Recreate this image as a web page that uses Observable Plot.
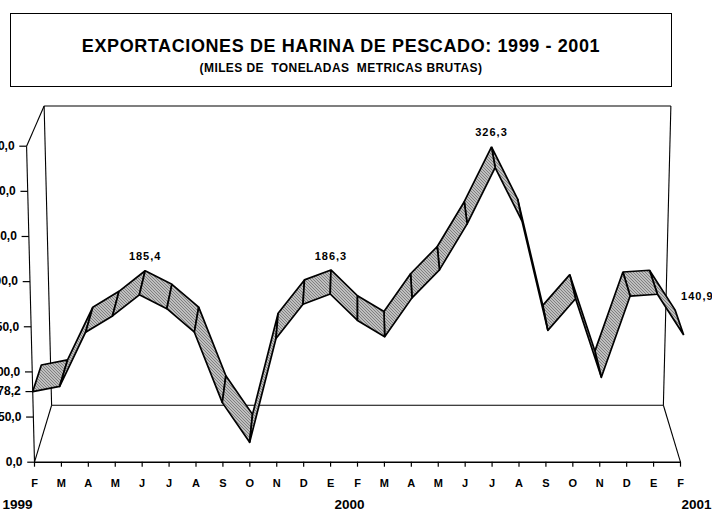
<!DOCTYPE html>
<html>
<head>
<meta charset="utf-8">
<script src="https://cdn.jsdelivr.net/npm/d3@7"></script>
<script src="https://cdn.jsdelivr.net/npm/@observablehq/plot@0.6"></script>
<style>
  html, body { margin: 0; padding: 0; background: #fff; }
  #page { position: relative; width: 712px; height: 512px; overflow: hidden; font-family: "Liberation Sans", Arial, sans-serif; font-weight: bold; color: #000; }
  #titlebox { position: absolute; left: 10px; top: 13px; width: 662px; height: 74px; box-sizing: border-box; border: 1px solid #000; }
  #title { position: absolute; left: 0; right: 0; top: 23px; text-align: center; font-size: 18px; line-height: 18px; letter-spacing: 0.6px; white-space: pre; }
  #subtitle { position: absolute; left: 0; right: 0; top: 48px; text-align: center; font-size: 12px; line-height: 12px; letter-spacing: 0.4px; white-space: pre; }
  #chart { position: absolute; left: 0; top: 95px; }
</style>
</head>
<body>
<div id="page">
  <div id="titlebox">
    <div id="title">EXPORTACIONES DE HARINA DE PESCADO: 1999 - 2001</div>
    <div id="subtitle">(MILES DE  TONELADAS  METRICAS BRUTAS)</div>
  </div>
  <div id="chart"></div>
</div>
<script>
// ---- data ----
const months = ["F","M","A","M","J","J","A","S","O","N","D","E","F","M","A","M","J","J","A","S","O","N","D","E","F"];
const values = [78.2, 84, 144, 162, 185.4, 170, 144, 66, 22, 137, 175, 186.3, 157, 139, 182, 213, 264, 326.3, 267, 146, 181, 94, 184, 186, 140.9];
const years = ["1999", "2000", "2001"];
const yTicks = [0, 50, 100, 150, 200, 250, 300, 350];
const peakLabels = [4, 11, 17];   // indices whose value is written above the ribbon
const endLabel = [24];            // last value, written to the right

const fmt = v => v.toFixed(1).replace(".", ",");
const N = months.length - 1;
const yMax = d3.max(yTicks);

// ---- simple perspective projection (data units) ----
const VV = 1190;            // vanishing height in value units
const centre = N / 2;
function P(i, v, d) {
  const s = 1 - 0.053 * d;              // depth shrink
  const w = 1 + 0.0245 * v / yMax;      // slight widening with height
  return [centre + (i - centre) * w * s, VV + s * (v - VV)];
}

// ribbon quads, painted far -> near
const segs = d3.range(N).sort((a, b) => Math.abs(b + 0.5 - centre) - Math.abs(a + 0.5 - centre));
const quads = [];
for (const k of segs) {
  const pts = [[k, values[k], 0], [k + 1, values[k + 1], 0], [k + 1, values[k + 1], 0.5], [k, values[k], 0.5], [k, values[k], 0]];
  for (const [i, v, d] of pts) { const [x, y] = P(i, v, d); quads.push({seg: k, x, y}); }
}

// frame edges
const edge = (a, b) => { const p = P(...a), q = P(...b); return {x1: p[0], y1: p[1], x2: q[0], y2: q[1]}; };
const walls = [
  edge([0, 0, 0], [0, yMax, 0]),
  edge([0, yMax, 0], [0, yMax, 1]),
  edge([0, yMax, 1], [0, 0, 1]),
  edge([0, 0, 0], [0, 0, 1]),
  edge([0, yMax, 1], [N, yMax, 1]),
  edge([N, yMax, 1], [N, 0, 1]),
  edge([0, 0, 1], [N, 0, 1]),
  edge([N, 0, 1], [N, 0, 0])
];
const baseLine = [edge([0, 0, 0], [N, 0, 0])];

const yAxisVals = [...yTicks, values[0]];
const tickLen = 0.27;

const plot = Plot.plot({
  width: 712,
  height: 417,
  marginLeft: 34,
  marginRight: 32,
  marginTop: 50.7,
  marginBottom: 50.3,
  x: {type: "linear", domain: [0, N], axis: null},
  y: {type: "linear", domain: [0, yMax], axis: null},
  style: {fontFamily: "'Liberation Sans', Arial, sans-serif", fontWeight: "bold", fontSize: "11px", color: "#000", background: "transparent"},
  marks: [
    Plot.link(walls, {x1: "x1", y1: "y1", x2: "x2", y2: "y2", stroke: "#000", strokeWidth: 1.1}),
    Plot.link(baseLine, {x1: "x1", y1: "y1", x2: "x2", y2: "y2", stroke: "#000", strokeWidth: 1.6}),
    // y axis along the slanted front edge
    Plot.link(yAxisVals, {x1: v => P(0, v, 0)[0] - tickLen, x2: v => P(0, v, 0)[0], y1: v => v, y2: v => v, stroke: "#000", strokeWidth: 1.2}),
    Plot.text(yAxisVals, {x: v => P(0, v, 0)[0], y: v => v, text: fmt, textAnchor: "end", dx: -12, fontSize: 12}),
    // x axis
    Plot.axisX({ticks: d3.range(N + 1), tickFormat: i => months[i], tickSize: 5, tickPadding: 12, fontSize: 11, fontWeight: "bold", label: null, strokeWidth: 1.2}),
    Plot.text(years, {x: (d, i) => i * N / 2, y: 0, text: d => d, dy: 42, fontSize: 13.5}),
    // ribbon
    Plot.line(quads, {x: "x", y: "y", z: "seg", fill: "url(#ribbonhatch)", stroke: "#000", strokeWidth: 1.7, strokeLinejoin: "miter", curve: "linear"}),
    // value labels
    Plot.text(peakLabels, {x: i => P(i, values[i], 0.5)[0], y: i => P(i, values[i], 0.5)[1], text: i => fmt(values[i]), dy: -14, fontSize: 11}),
    Plot.text(endLabel, {x: i => P(i, values[i], 0.5)[0], y: i => P(i, values[i], 0.5)[1], text: i => fmt(values[i]), dy: -13, dx: 6, textAnchor: "start", fontSize: 11})
  ]
});

d3.select(plot).insert("defs", ":first-child").html(`
  <pattern id="ribbonhatch" width="3" height="3" patternUnits="userSpaceOnUse">
    <rect width="3" height="3" fill="#ffffff"></rect>
    <rect x="0" y="0" width="1" height="1" fill="#000"></rect>
    <rect x="1" y="1" width="1" height="1" fill="#000"></rect>
    <rect x="2" y="2" width="1" height="1" fill="#000"></rect>
  </pattern>`);

// year label alignment: first left-aligned, last right-aligned
d3.select(plot).selectAll("text").filter(function() { return years.includes(this.textContent); })
  .each(function() {
    const t = this.textContent, sel = d3.select(this);
    if (t === years[0]) sel.attr("text-anchor", "start").attr("dx", -32);
    else if (t === years[2]) sel.attr("text-anchor", "end").attr("dx", 31);
    else sel.attr("dx", -8);
  });
d3.select(plot).selectAll("text")
  .filter(function() { return /^\d+,\d$/.test(this.textContent) && this.getAttribute("text-anchor") !== "end" && this.parentNode.getAttribute("text-anchor") !== "end"; })
  .attr("letter-spacing", "1");

document.getElementById("chart").appendChild(plot);
</script>
</body>
</html>
